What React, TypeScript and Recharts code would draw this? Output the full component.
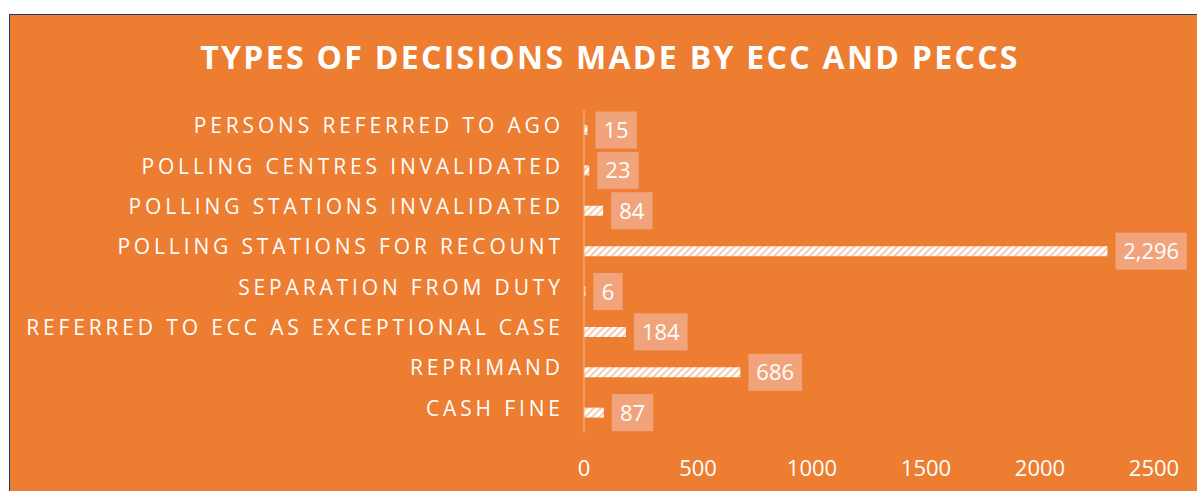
import React from 'react';
import { BarChart, Bar, XAxis, YAxis, LabelList } from 'recharts';

const categories = [
  'PERSONS REFERRED TO AGO',
  'POLLING CENTRES INVALIDATED',
  'POLLING STATIONS INVALIDATED',
  'POLLING STATIONS FOR RECOUNT',
  'SEPARATION FROM DUTY',
  'REFERRED TO ECC AS EXCEPTIONAL CASE',
  'REPRIMAND',
  'CASH FINE',
];
const decisions = [15, 23, 84, 2296, 6, 184, 686, 87];
const xTicks = [0, 500, 1000, 1500, 2000, 2500];

const data = categories.map((name, i) => ({ name, value: decisions[i] }));

const FONT = '"Open Sans", "Noto Sans", sans-serif';

const XTick = (props: any) => {
  const { x, y, payload } = props;
  return (
    <text x={x} y={y + 43} textAnchor="middle" fill="#FFFFFF" fontSize={22} fontFamily={FONT}>
      {payload.value}
    </text>
  );
};

const YTick = (props: any) => {
  const { x, y, payload } = props;
  return (
    <text
      x={x - 24 + 3.85}
      y={y}
      dy={3}
      textAnchor="end"
      fill="#FFFFFF"
      fontSize={21}
      fontFamily={FONT}
      letterSpacing={3.85}
    >
      {payload.value}
    </text>
  );
};

const BoxLabel = (props: any) => {
  const { x, y, width, height, value } = props;
  const txt = Number(value).toLocaleString('en-US');
  let tw = 0;
  for (const ch of txt) tw += ch === ',' ? 5.5 : 12.2;
  const bw = tw + 17;
  const bx = x + width + 8;
  const cy = y + height / 2;
  return (
    <g>
      <rect x={bx} y={cy - 18.5} width={bw} height={37} fill="#F1A47C" />
      <text
        x={bx + bw / 2}
        y={cy}
        dy={8}
        textAnchor="middle"
        fill="#FFFFFF"
        fontSize={22}
        fontFamily={FONT}
      >
        {txt}
      </text>
    </g>
  );
};

export default function App() {
  return (
    <div
      style={{
        position: 'fixed',
        left: 9,
        top: 14,
        width: 1187,
        height: 476,
        borderLeft: '1px solid #1F3864',
        borderTop: '1px solid #1F3864',
        background: '#ED7D31',
        overflow: 'hidden',
      }}
    >
      <div
        style={{
          position: 'absolute',
          left: 0,
          top: 26,
          width: 1187,
          paddingLeft: 13,
          boxSizing: 'border-box',
          textAlign: 'center',
          color: '#FFFFFF',
          fontFamily: FONT,
          fontWeight: 700,
          fontSize: 32,
          lineHeight: '32px',
          letterSpacing: 2.3,
        }}
      >
        TYPES OF DECISIONS MADE BY ECC AND PECCS
      </div>
      <div style={{ position: 'absolute', left: 0, top: 0 }}>
        <BarChart
          width={1187}
          height={476}
          data={data}
          layout="vertical"
          margin={{ top: 95, right: 43, bottom: 18, left: 0 }}
          barCategoryGap={0}
        >
          <defs>
            <pattern id="hatch" width="5" height="5" patternUnits="userSpaceOnUse" patternTransform="rotate(45)">
              <rect width="5" height="5" fill="#FFFFFF" />
              <rect width="1.6" height="5" fill="#F6BE98" />
            </pattern>
          </defs>
          <XAxis
            type="number"
            domain={[0, 2500]}
            ticks={xTicks}
            axisLine={false}
            tickLine={false}
            tickSize={0}
            tickMargin={0}
            height={40}
            tick={<XTick />}
            interval={0}
          />
          <YAxis
            type="category"
            dataKey="name"
            width={574}
            axisLine={{ stroke: '#F5B48A', strokeWidth: 1 }}
            tickLine={false}
            tickSize={0}
            tickMargin={0}
            tick={<YTick />}
            interval={0}
          />
          <Bar dataKey="value" fill="url(#hatch)" barSize={10} isAnimationActive={false}>
            <LabelList dataKey="value" content={<BoxLabel />} />
          </Bar>
        </BarChart>
      </div>
    </div>
  );
}
